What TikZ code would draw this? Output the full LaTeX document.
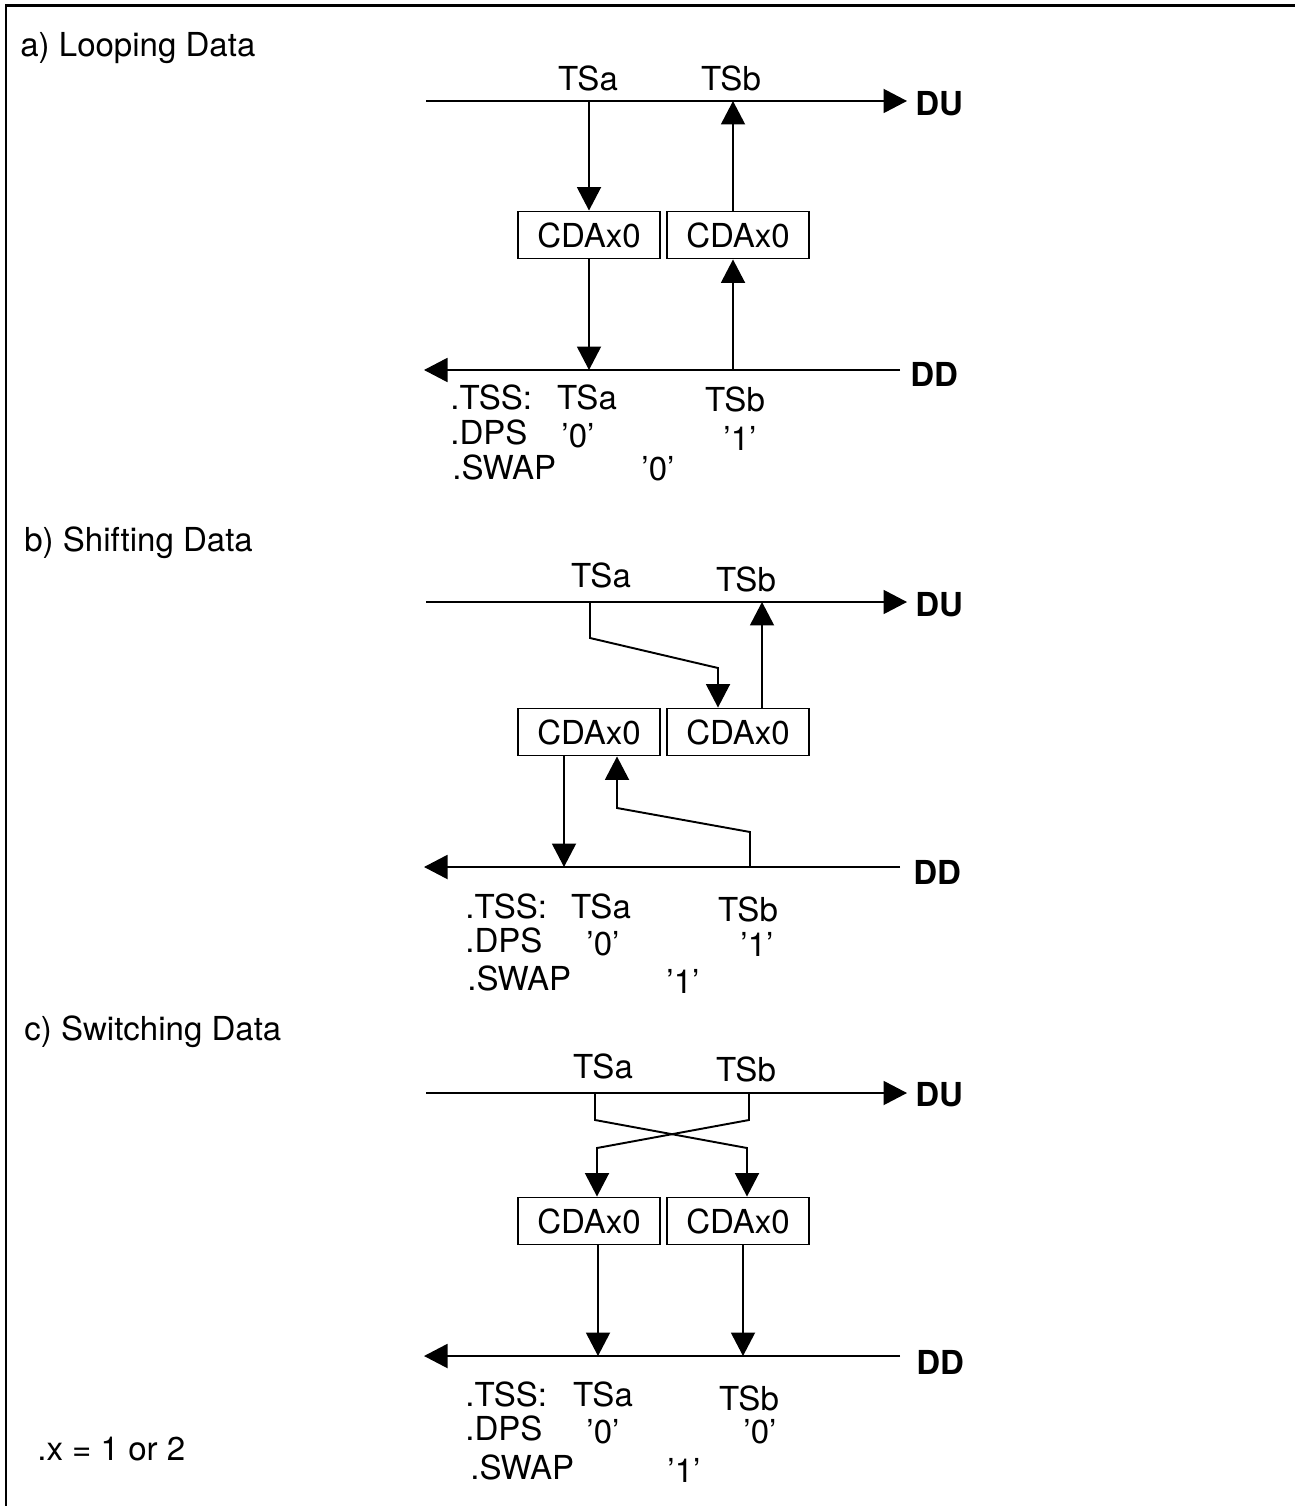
\documentclass[tikz,border=0pt]{standalone}
\usepackage{fontspec}
\setmainfont{TeX Gyre Heros}
\usetikzlibrary{arrows.meta, positioning}

\begin{document}
\begin{tikzpicture}[x=0.02cm, y=-0.02cm,
every node/.style={font=\fontsize{18.8}{22}\selectfont, inner sep=0pt},
cdabox/.style={rectangle, draw, line width=1.1pt,
minimum width=2.84cm, minimum height=0.94cm},
arrow/.style={-{Triangle[length=0.47cm, width=0.48cm]}, line width=1.1pt},
sectitle/.style={anchor=west},
field/.style={anchor=west},
busname/.style={anchor=west, font=\fontsize{18.8}{22}\selectfont\bfseries}]

\useasboundingbox (0,0) rectangle (1294,1506);
\draw[line width=1.7pt] (6,1530) -- (6,6) -- (1320,6);

% a) looping
\node[sectitle] (titleA) at (20,48) {a) Looping Data};
\node (tsaA) at (588,78) {TSa};
\node (tsbA) at (731,78) {TSb};
\coordinate (duA0) at (426,101);
\coordinate (duA1) at (907,101);
\coordinate (ddA0) at (900,370);
\coordinate (ddA1) at (424,370);
\draw[arrow] (duA0) -- (duA1);
\draw[arrow] (ddA0) -- (ddA1);
\node[busname] (duA) at (915,104) {DU};
\node[busname] (ddA) at (910,374) {DD};
\node[cdabox] (boxA1) at (589,235) {CDAx0};
\node[cdabox] (boxA2) at (738,235) {CDAx0};
\coordinate (tapbA) at (733,101);
\draw[arrow] (boxA1.north |- duA0) -- (boxA1.north);
\draw[arrow] (boxA1.south) -- (boxA1.south |- ddA0);
\draw[arrow] (tapbA |- boxA2.north) -- (tapbA);
\draw[arrow] (tapbA |- ddA0) -- (tapbA |- boxA2.south);
\node[field] (tssA) at (450,397) {.TSS:};
\node (tssaA) at (587,397) {TSa};
\node (tssbA) at (735,399) {TSb};
\node[field] (dpsA) at (450,432) {.DPS};
\node (dpsaA) at (578,436) {'0'};
\node (dpsbA) at (740,438) {'1'};
\node[field] (swapA) at (452,467) {.SWAP};
\node (swapvA) at (658,469) {'0'};

% b) shifting
\node[sectitle] (titleB) at (24,543) {b) Shifting Data};
\node (tsaB) at (601,575) {TSa};
\node (tsbB) at (746,579) {TSb};
\coordinate (duB0) at (426,602);
\coordinate (duB1) at (907,602);
\coordinate (ddB0) at (900,867);
\coordinate (ddB1) at (424,867);
\draw[arrow] (duB0) -- (duB1);
\draw[arrow] (ddB0) -- (ddB1);
\node[busname] (duB) at (915,605) {DU};
\node[busname] (ddB) at (913,872) {DD};
\node[cdabox] (boxB1) at (589,732) {CDAx0};
\node[cdabox] (boxB2) at (738,732) {CDAx0};
\coordinate (tapaB) at (590,602);
\coordinate (turnB) at (718,668);
\draw[arrow] (tapaB) -- (590,638) -- (turnB) -- (turnB |- boxB2.north);
\coordinate (tapbB) at (762,602);
\draw[arrow] (tapbB |- boxB2.north) -- (tapbB);
\coordinate (outaB) at (564,867);
\draw[arrow] (outaB |- boxB1.south) -- (outaB);
\coordinate (tapbdB) at (750,867);
\coordinate (bendB) at (617,808);
\draw[arrow] (tapbdB) -- (750,832) -- (bendB) -- (bendB |- boxB1.south);
\node[field] (tssB) at (465,906) {.TSS:};
\node (tssaB) at (601,906) {TSa};
\node (tssbB) at (748,909) {TSb};
\node[field] (dpsB) at (465,940) {.DPS};
\node (dpsaB) at (603,944) {'0'};
\node (dpsbB) at (757,944) {'1'};
\node[field] (swapB) at (467,978) {.SWAP};
\node (swapvB) at (683,981) {'1'};

% c) switching
\node[sectitle] (titleC) at (24,1032) {c) Switching Data};
\node (tsaC) at (603,1066) {TSa};
\node (tsbC) at (746,1069) {TSb};
\coordinate (duC0) at (426,1093);
\coordinate (duC1) at (907,1093);
\coordinate (ddC0) at (900,1356);
\coordinate (ddC1) at (424,1356);
\draw[arrow] (duC0) -- (duC1);
\draw[arrow] (ddC0) -- (ddC1);
\node[busname] (duC) at (915,1095) {DU};
\node[busname] (ddC) at (916,1362) {DD};
\node[cdabox] (boxC1) at (589,1221) {CDAx0};
\node[cdabox] (boxC2) at (738,1221) {CDAx0};
\coordinate (tapaC) at (595,1093);
\coordinate (tapbC) at (749,1093);
\coordinate (inaC) at (597,1148);
\coordinate (inbC) at (747,1148);
\draw[arrow] (tapaC) -- (595,1120) -- (inbC) -- (inbC |- boxC2.north);
\draw[arrow] (tapbC) -- (749,1120) -- (inaC) -- (inaC |- boxC1.north);
\coordinate (outaC) at (598,1356);
\coordinate (outbC) at (743,1356);
\draw[arrow] (outaC |- boxC1.south) -- (outaC);
\draw[arrow] (outbC |- boxC2.south) -- (outbC);
\node[field] (tssC) at (465,1394) {.TSS:};
\node (tssaC) at (603,1394) {TSa};
\node (tssbC) at (749,1398) {TSb};
\node[field] (dpsC) at (465,1428) {.DPS};
\node (dpsaC) at (603,1432) {'0'};
\node (dpsbC) at (760,1432) {'0'};
\node[field] (swapC) at (470,1467) {.SWAP};
\node (swapvC) at (684,1470) {'1'};
\node[field] (xnote) at (37,1449) {.x = 1 or 2};
\end{tikzpicture}
\end{document}
